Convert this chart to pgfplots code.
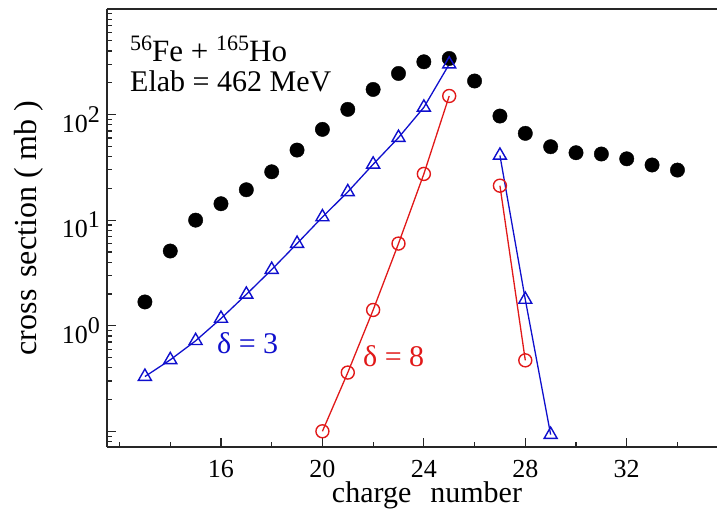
\documentclass[border=0pt]{standalone}
\usepackage{pgfplots}
\pgfplotsset{compat=1.18}
\usepackage{fontspec}
\setmainfont{Liberation Serif}
\definecolor{dblue}{RGB}{15,15,205}
\definecolor{dred}{RGB}{225,25,25}
\newcommand\tl[1]{10\raisebox{10bp}{\fontsize{24bp}{24bp}\selectfont #1}}
\begin{document}
\begin{tikzpicture}
\begin{axis}[
  name=ax, at={(0,0)}, anchor=south west,
  scale only axis, width=610bp, height=438bp,
  ymode=log,
  xmin=11.505, xmax=35.56, ymin=0.071, ymax=1000,
  axis x line=box, axis y line=left,
  axis line style={-, line width=1.6bp, black!85},
  xtick pos=left,
  tick align=inside,
  major tick length=9bp, minor tick length=5bp,
  every tick/.style={black!85, line width=1.2bp},
  xtick={16,20,24,28,32}, xticklabels={16,20,24,28,32},
  minor xtick={12,14,18,22,26,30,34},
  ytick={0.1,1,10,100,1000},
  yticklabels={,\tl{0},\tl{1},\tl{2},},
  minor ytick={0.08,0.09,0.2,0.3,0.4,0.5,0.6,0.7,0.8,0.9,2,3,4,5,6,7,8,9,20,30,40,50,60,70,80,90,200,300,400,500,600,700,800,900},
  xticklabel style={font=\fontsize{26bp}{26bp}\selectfont, inner sep=0pt, anchor=north, yshift=-13bp},
  yticklabel style={font=\fontsize{26bp}{26bp}\selectfont, inner sep=0pt, anchor=east, xshift=-7bp, yshift=-5bp},
  xlabel={charge\hspace{19bp}number},
  ylabel={cross\hspace{12bp}section ( mb )},
  every axis x label/.style={font=\fontsize{30bp}{30bp}\selectfont, inner sep=0pt, at={(axis description cs:0.5,0)}, anchor=base, xshift=15bp, yshift=-55bp},
  every axis y label/.style={font=\fontsize{32bp}{32bp}\selectfont, inner sep=0pt, at={(axis description cs:0,0.5)}, rotate=90, anchor=base, yshift=70bp},
]
\addplot[only marks, mark=*, mark size=7.2bp, black] coordinates {
(13,1.68)(14,5.1)(15,10)(16,14.3)(17,19.4)(18,28.7)(19,46.1)(20,72.4)(21,112)(22,173)(23,245)(24,316)(25,340)(26,208)(27,96.8)(28,66.4)(29,49.6)(30,43.5)(31,42.3)(32,38.1)(33,33.3)(34,29.8)};
\addplot[dred, line width=1.3bp, mark=o, mark size=6.5bp, mark options={line width=1.4bp, fill=white}] coordinates {
(20,0.1)(21,0.36)(22,1.41)(23,6.0)(24,27.4)(25,150)};
\addplot[dred, line width=1.3bp, mark=o, mark size=6.5bp, mark options={line width=1.4bp, fill=white}] coordinates {
(27,21.2)(28,0.47)};
\addplot[dblue, line width=1.3bp, mark=triangle, mark size=7.5bp, mark options={line width=1.4bp}] coordinates {
(13,0.33)(14,0.475)(15,0.72)(16,1.17)(17,1.98)(18,3.4)(19,6.0)(20,10.7)(21,18.5)(22,33.8)(23,60.5)(24,117)(25,300)};
\addplot[dblue, line width=1.3bp, mark=triangle, mark size=7.5bp, mark options={line width=1.4bp}] coordinates {
(27,41)(28,1.77)(29,0.093)};
\node[anchor=base west, inner sep=0pt, font=\fontsize{31bp}{31bp}\selectfont] at (rel axis cs:0.0377,0.879) {\raisebox{11bp}{\fontsize{22bp}{22bp}\selectfont 56}Fe + \raisebox{11bp}{\fontsize{22bp}{22bp}\selectfont 165}Ho};
\node[anchor=base west, inner sep=0pt, font=\fontsize{30bp}{30bp}\selectfont] at (rel axis cs:0.0377,0.8105) {Elab = 462 MeV};
\node[anchor=base west, inner sep=0pt, text=dblue, font=\fontsize{30bp}{30bp}\selectfont] at (axis cs:15.84,0.54) {δ = 3};
\node[anchor=base west, inner sep=0pt, text=dred, font=\fontsize{30bp}{30bp}\selectfont] at (axis cs:21.6,0.415) {δ = 8};
\end{axis}
\pgfresetboundingbox
\useasboundingbox (-107bp,-65bp) rectangle (610bp,447bp);
\end{tikzpicture}
\end{document}
